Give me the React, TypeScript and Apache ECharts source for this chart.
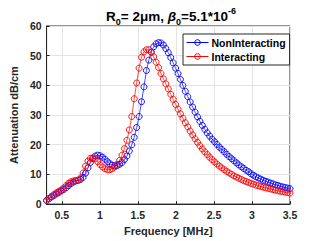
import React, { useEffect, useRef } from "react";
import * as echarts from "echarts";

const freq = [
  0.300, 0.332, 0.364, 0.396, 0.428, 0.460, 0.492, 0.524, 0.556, 0.588,
  0.620, 0.652, 0.684, 0.716, 0.748, 0.780, 0.812, 0.844, 0.876, 0.908,
  0.940, 0.972, 1.004, 1.036, 1.068, 1.100, 1.132, 1.164, 1.196, 1.228,
  1.260, 1.292, 1.324, 1.356, 1.388, 1.420, 1.452, 1.484, 1.516, 1.548,
  1.580, 1.612, 1.644, 1.676, 1.708, 1.740, 1.772, 1.804, 1.836, 1.868,
  1.900, 1.932, 1.964, 1.996, 2.028, 2.060, 2.092, 2.124, 2.156, 2.188,
  2.220, 2.252, 2.284, 2.316, 2.348, 2.380, 2.412, 2.444, 2.476, 2.508,
  2.540, 2.572, 2.604, 2.636, 2.668, 2.700, 2.732, 2.764, 2.796, 2.828,
  2.860, 2.892, 2.924, 2.956, 2.988, 3.020, 3.052, 3.084, 3.116, 3.148,
  3.180, 3.212, 3.244, 3.276, 3.308, 3.340, 3.372, 3.404, 3.436, 3.468,
  3.500,
];

const nonInteracting = [
  1.2, 1.8, 2.4, 2.9, 3.4, 3.9, 4.4, 4.9, 5.5, 6.2,
  6.9, 7.4, 7.8, 8.0, 8.3, 9.0, 10.4, 12.2, 14.0, 15.3,
  16.2, 16.5, 16.3, 15.8, 15.1, 14.3, 13.6, 13.1, 12.9, 13.0,
  13.4, 14.0, 15.0, 16.2, 17.9, 20.0, 22.5, 25.8, 29.5, 34.5,
  39.5, 45.0, 48.5, 51.2, 53.0, 54.0, 54.4, 54.3, 53.6, 52.4,
  51.0, 49.4, 47.6, 45.8, 44.0, 42.0, 40.0, 38.0, 36.2, 34.4,
  32.7, 31.0, 29.4, 27.9, 26.5, 25.2, 24.0, 22.9, 21.9, 21.0,
  20.1, 19.2, 18.4, 17.6, 16.8, 16.0, 15.3, 14.6, 13.9, 13.2,
  12.6, 12.0, 11.4, 10.9, 10.2, 9.7, 9.2, 8.8, 8.4, 8.0,
  7.7, 7.4, 7.1, 6.8, 6.5, 6.3, 6.0, 5.8, 5.6, 5.4,
  5.2,
];

const interacting = [
  1.2, 1.9, 2.6, 3.2, 3.8, 4.3, 4.8, 5.4, 6.2, 7.0,
  7.5, 7.8, 7.9, 8.1, 8.8, 10.5, 12.8, 14.5, 15.4, 15.6,
  15.2, 14.3, 13.3, 12.5, 11.9, 11.6, 11.6, 11.9, 12.5, 13.4,
  14.7, 16.5, 18.7, 21.5, 25.0, 29.5, 35.5, 40.8, 45.8, 49.5,
  51.3, 52.0, 52.0, 51.2, 49.6, 47.8, 46.0, 44.0, 42.2, 40.5,
  38.8, 37.0, 35.3, 33.6, 32.0, 30.4, 28.9, 27.4, 26.0, 24.6,
  23.3, 22.0, 20.8, 19.7, 18.6, 17.6, 16.7, 15.8, 15.0, 14.2,
  13.5, 12.8, 12.2, 11.6, 11.0, 10.5, 10.0, 9.5, 9.1, 8.7,
  8.3, 7.9, 7.6, 7.3, 7.0, 6.7, 6.4, 6.2, 5.9, 5.7,
  5.5, 5.3, 5.1, 4.9, 4.7, 4.5, 4.3, 4.2, 4.0, 3.9,
  3.7,
];

const xTicks = [0.5, 1, 1.5, 2, 2.5, 3, 3.5];
const seriesNames = ["NonInteracting", "Interacting"];
const seriesColors = ["#0000ff", "#ff0000"];

const FONT = "Liberation Sans, Arial, sans-serif";
const TXT = "#262626";

export default function App() {
  const ref = useRef<HTMLDivElement>(null);
  useEffect(() => {
    if (!ref.current) return;
    const chart = echarts.init(ref.current, null, { renderer: "svg" });
    const mk = (i: number, vals: number[]) => ({
      name: seriesNames[i],
      type: "line",
      data: freq.map((f, k) => [f, vals[k]]),
      symbol: "circle",
      symbolSize: 6,
      showAllSymbol: true,
      color: seriesColors[i],
      lineStyle: { color: seriesColors[i], width: 0.7 },
      itemStyle: { color: "rgba(255,255,255,0)", borderColor: seriesColors[i], borderWidth: 0.9 },
    });
    chart.setOption({
      animation: false,
      backgroundColor: "#ffffff",
      textStyle: { fontFamily: FONT },
      title: {
        text: "{a|R}{s|0}{a|= 2}{a|μ}{a|m, }{b|β}{s|0}{a|=5.1*10}{p|-6}",
        left: 166,
        textAlign: "center",
        top: 1,
        textStyle: {
          rich: {
            a: { fontSize: 13.5, fontWeight: "bold", color: "#000", fontFamily: FONT, lineHeight: 20, verticalAlign: "middle" },
            b: { fontSize: 13.5, fontWeight: "bold", fontStyle: "italic", color: "#000", fontFamily: FONT, lineHeight: 20, verticalAlign: "middle" },
            s: { fontSize: 9, fontWeight: "bold", color: "#000", fontFamily: FONT, lineHeight: 20, verticalAlign: "bottom" },
            p: { fontSize: 9, fontWeight: "bold", color: "#000", fontFamily: FONT, lineHeight: 20, verticalAlign: "top" },
          },
        },
      },
      legend: {
        orient: "vertical",
        left: 183,
        top: 34,
        data: seriesNames.map((n, i) => ({
          name: n,
          itemStyle: { color: "rgba(255,255,255,0)", borderColor: seriesColors[i], borderWidth: 1 },
          lineStyle: { color: seriesColors[i], width: 1, type: "solid" },
        })),
        backgroundColor: "#ffffff",
        borderColor: TXT,
        borderWidth: 1,
        borderRadius: 0,
        padding: [3, 4, 3, 3],
        itemGap: 3,
        itemWidth: 22,
        itemHeight: 7,
        textStyle: { fontSize: 10.5, fontWeight: "bold", color: "#000", fontFamily: FONT, padding: [0, 0, 0, -2] },
      },
      grid: {
        left: 41,
        top: 26,
        right: 31,
        bottom: 34,
        show: true,
        borderColor: TXT,
        borderWidth: 1,
        backgroundColor: "transparent",
      },
      xAxis: {
        type: "value",
        min: 0.3,
        max: 3.5,
        name: "Frequency [MHz]",
        nameLocation: "middle",
        nameGap: 20,
        nameTextStyle: { fontSize: 11, fontWeight: "bold", color: TXT, fontFamily: FONT },
        axisLine: { show: true, lineStyle: { color: TXT, width: 1 } },
        axisTick: { show: true, inside: true, length: 3, customValues: xTicks, lineStyle: { color: TXT } },
        axisLabel: { customValues: xTicks, fontSize: 10.5, fontWeight: "bold", color: TXT, fontFamily: FONT, margin: 5 },
        splitLine: { show: true, lineStyle: { color: "#e3e3e3", width: 1 } },
      },
      yAxis: {
        type: "value",
        min: 0,
        max: 60,
        interval: 10,
        name: "Attenuation dB/cm",
        nameLocation: "middle",
        nameGap: 24,
        nameTextStyle: { fontSize: 11, fontWeight: "bold", color: TXT, fontFamily: FONT },
        axisLine: { show: true, lineStyle: { color: TXT, width: 1 } },
        axisTick: { show: true, inside: true, length: 3, lineStyle: { color: TXT } },
        axisLabel: { fontSize: 10.5, fontWeight: "bold", color: TXT, fontFamily: FONT, margin: 5 },
        splitLine: { show: true, lineStyle: { color: "#e3e3e3", width: 1 } },
      },
      series: [mk(0, nonInteracting), mk(1, interacting)],
    });
    return () => chart.dispose();
  }, []);
  return (
    <div
      ref={ref}
      style={{ position: "fixed", left: 0, top: 0, width: 321, height: 241 }}
    />
  );
}
